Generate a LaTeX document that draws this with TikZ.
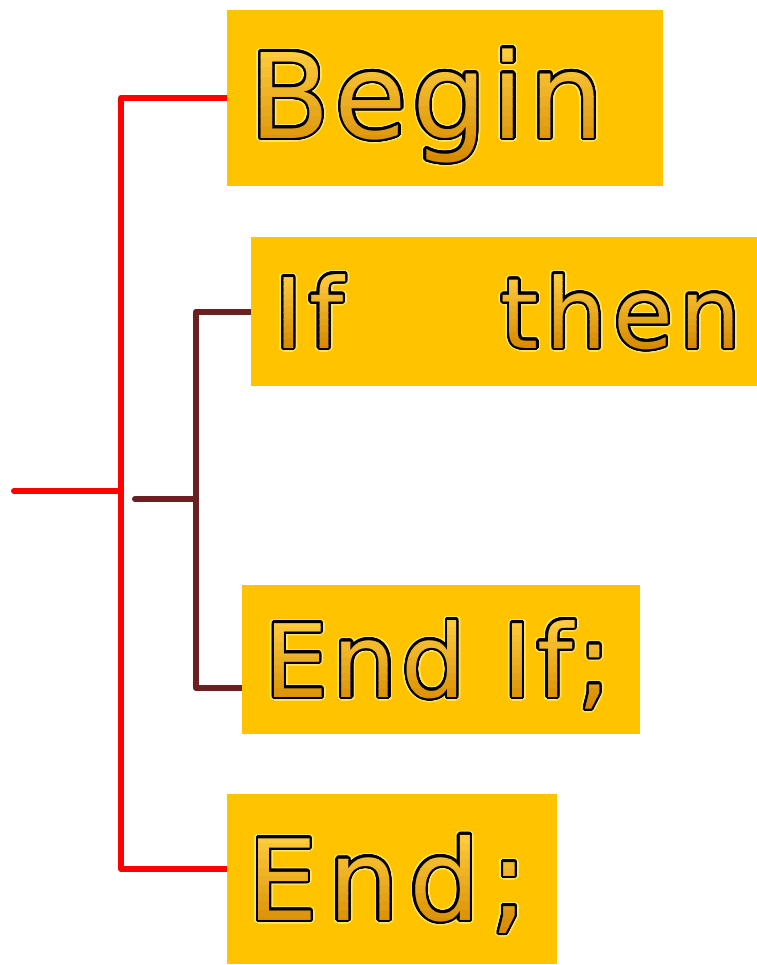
\documentclass[tikz,border=0pt]{standalone}
\usepackage{fontspec}
\usepackage[copies]{contour}
\usetikzlibrary{calc}
\newfontfamily\palabra{DejaVu Sans}
\definecolor{caja}{HTML}{FFC300}
\definecolor{rojo}{HTML}{FF0000}
\definecolor{marron}{HTML}{6A2020}
\definecolor{tope}{HTML}{FDCB3C}
\definecolor{fondoletra}{HTML}{D68A00}
\definecolor{brillo}{HTML}{FFE45C}
\newcommand\fBegin{\palabra\fontsize{88.5pt}{90pt}\selectfont\addfontfeatures{LetterSpace=4}}
\newcommand\fIf{\palabra\fontsize{73pt}{75pt}\selectfont\addfontfeatures{LetterSpace=6.5}}
\newcommand\fEndIf{\palabra\fontsize{76pt}{78pt}\selectfont\addfontfeatures{LetterSpace=4.5}}
\newcommand\fEnd{\palabra\fontsize{84pt}{86pt}\selectfont\addfontfeatures{LetterSpace=9}}
\contourlength{1.7pt}
\contournumber{32}
\pgfdeclarelayer{fondo}
\pgfsetlayers{fondo,main}

\begin{document}
\begin{tikzpicture}[x=0.75pt,y=-0.75pt,
    bloque/.style={fill=caja,inner sep=0pt},
    rama/.style={line width=4.5pt,line cap=round,line join=round,rojo},
    subrama/.style={line width=4.5pt,line cap=round,line join=round,marron},
    letra/.style={inner sep=0pt,anchor=base west}]
  \useasboundingbox (0,0) rectangle (757,965);

  % cajas
  \node[bloque,minimum width=327pt,minimum height=132pt] (cajaBegin) at (445,98) {};
  \node[bloque,minimum width=379.5pt,minimum height=111.75pt] (cajaIf) at (504,311.5) {};
  \node[bloque,minimum width=298.5pt,minimum height=111.75pt] (cajaEndIf) at (441,659.5) {};
  \node[bloque,minimum width=247.5pt,minimum height=127.5pt] (cajaEnd) at (392,879) {};

  % textos: halo, contorno negro y relleno en franjas
  \foreach \nombre/\pos/\fuente/\texto in {Begin/{(249,138)}/\fBegin/Begin,
      If/{(274,348)}/\fIf/{If\hspace{118pt}then},
      EndIf/{(264,697)}/\fEndIf/{End If;},
      End/{(247,920)}/\fEnd/{End;}} {
    \node[letra,font=\fuente,text=brillo] at \pos {\contourlength{3pt}\contour{brillo}{\texto}};
    \node[letra,font=\fuente,text=black] (t\nombre) at \pos {\contour{black}{\texto}};
    \foreach \k in {0,...,11} {
      \pgfmathsetmacro\fa{\k/12}
      \pgfmathsetmacro\fb{(\k+1)/12}
      \pgfmathsetmacro\pct{100-\k*100/11}
      \begin{scope}
        \clip ($(t\nombre.north west)!\fa!(t\nombre.south west)$) rectangle ($(t\nombre.north east)!\fb!(t\nombre.south east)$);
        \node[letra,font=\fuente,text=tope!\pct!fondoletra] at \pos {\texto};
      \end{scope}
    }
  }

  % ramas
  \coordinate (juntaRoja) at (121,491);
  \coordinate (entradaRoja) at (14,491);
  \coordinate (juntaMarron) at (196,499);
  \coordinate (entradaMarron) at (135,499);
  \begin{pgfonlayer}{fondo}
    \draw[rama] (cajaBegin.west) -| (juntaRoja) |- ([yshift=7.5pt]cajaEnd.west);
    \draw[rama] (entradaRoja) -- (juntaRoja);
    \draw[subrama] (cajaIf.west) -| (juntaMarron) |- ([yshift=-21.4pt]cajaEndIf.west);
    \draw[subrama] (entradaMarron) -- (juntaMarron);
  \end{pgfonlayer}
\end{tikzpicture}
\end{document}
